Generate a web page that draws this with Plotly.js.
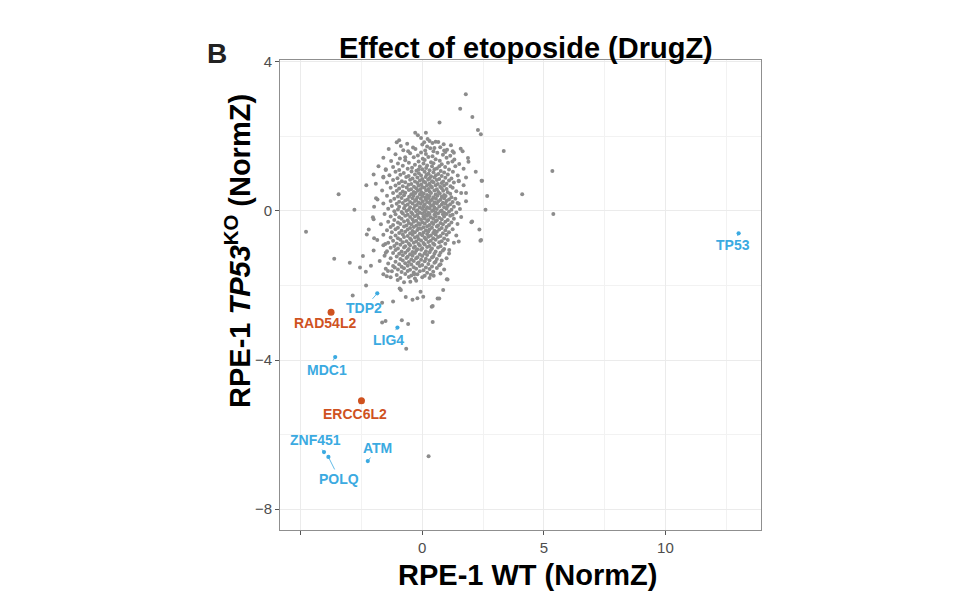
<!DOCTYPE html>
<html>
<head>
<meta charset="utf-8">
<script src="https://cdn.plot.ly/plotly-3.0.1.min.js"></script>
<style>html,body{margin:0;padding:0;background:#fff;}#chart{width:973px;height:616px;}</style>
</head>
<body>
<div id="chart"></div>
<script>
// Background genes as [NormZ WT, NormZ TP53KO] pairs
const outlierPts = [
  [1.79,3.13],[1.56,2.74],[2.06,2.52],[0.71,2.37],[2.29,2.17],[2.41,2.06],[3.35,1.61],[5.35,1.07],
  [2.44,0.81],[4.11,0.45],[-3.44,0.45],[2.67,0.40],[2.6,0.03],[-2.79,0.03],[5.39,-0.08],[2.02,-0.30],
  [2.39,-0.80],[-4.78,-0.56],[-2.03,-0.17],[-3.62,-1.28],[-2.98,-1.39],[-2.44,-1.21],[-2.56,-1.52],
  [-1.13,-1.52],[-2.32,-1.63],[-1.46,-1.75],[0.47,-1.74],[-1.41,-1.61],[-1.01,-1.85],[-0.25,-1.87],
  [-0.75,-1.91],[-0.49,-1.90],[-0.33,-1.70],[-0.93,-2.08],[-0.88,-2.12],[0.86,-2.12],[-0.68,-2.31],
  [-0.4,-2.38],[-0.2,-2.34],[0.04,-2.30],[-0.07,-2.17],[1.01,-1.83],[0.63,-2.35],[0.39,-2.57],
  [0.43,-2.98],[-1.65,-2.46],[-1.2,-2.43],[-1.65,-2.99],[-1.51,-2.95],[-0.84,-2.93],[-0.58,-3.03],
  [-0.66,-3.70],[-2.86,-2.27],[-2.31,-2.00],[0.26,-6.58]
];
const edgePts = [
  [-1.98,0.11],[-1.84,0.31],[-1.91,0.73],[-1.6,0.92],[-1.5,1.1],[-2.28,-0.63],[-1.98,-0.73],[-2.11,-1.47],
  [-1.52,-0.89],[-1.5,-1.12],[1.5,0.81],[1.5,0.19],[1.8,0.48],[1.9,1.32],[2.05,-0.28],[2.42,-0.78],
  [2.46,0.81],[1.04,-1.84],[0.7,-2.35],[0.43,-2.55],[1.5,-0.82],[1.11,-1.05],[1.66,1.6],[1.25,1.6],[0.9,1.62]
];
const bandTop = [
  [-0.29,2.1],[0.15,2.1],[-0.18,2.03],[-0.05,1.96],[0.22,1.93],[-0.95,1.9],[-1.05,1.84],[0.3,1.88],[0.55,1.86],[0.08,1.84],
  [0.42,1.82],[0.66,1.85],[-0.62,1.8],[0.0,1.78],[0.88,1.79],[1.18,1.76],[-0.88,1.74],[-0.38,1.7],[0.2,1.73],[0.5,1.69],
  [0.74,1.71],[-1.38,1.66],[-0.78,1.63],[-0.28,1.66],[0.12,1.62],[0.46,1.6],[1.02,1.64],[1.58,1.67],[-0.58,1.6],[0.33,1.68],[0.95,1.58]
];
const bandUpper = [
  [-1.1,1.52],[-0.5,1.55],[-0.18,1.49],[0.15,1.53],[0.42,1.47],[0.85,1.51],[1.15,1.48],[1.3,1.56],[-0.05,1.57],[0.62,1.56],
  [-1.6,1.43],[-0.92,1.41],[-0.35,1.44],[0.02,1.4],[0.25,1.45],[0.55,1.39],[1.0,1.43],[1.88,1.42],[-0.7,1.36],[-0.15,1.33],
  [0.1,1.37],[0.36,1.31],[0.72,1.35],[1.24,1.33],[-1.28,1.34],[-1.0,1.27],[-0.55,1.29],[-0.3,1.24],[0.05,1.27],[0.2,1.22],
  [0.46,1.28],[0.8,1.25],[1.06,1.29],[1.52,1.26],[-1.8,1.2],[-1.2,1.18],[-0.8,1.21],[-0.42,1.16],[-0.1,1.19],[0.16,1.15],
  [0.4,1.2],[0.6,1.14],[0.94,1.18],[1.36,1.2],[-1.5,1.12],[-0.95,1.1],[-0.6,1.13],[-0.24,1.08],[0.0,1.12],[0.3,1.09],
  [0.5,1.12],[0.76,1.07],[1.1,1.11],[1.7,1.13],[-0.7,1.44],[0.7,1.2],[-0.15,1.11],[1.32,1.38]
];
const bandHigh = [
  [-1.1,1.05],[-0.76,1.02],[-0.44,1.06],[-0.14,1.01],[0.1,1.05],[0.26,1.0],[0.46,1.04],[0.66,0.99],[0.9,1.03],[1.26,1.05],[2.2,1.05],
  [-2.0,0.98],[-1.35,0.96],[-0.9,0.97],[-0.56,0.94],[-0.3,0.98],[-0.05,0.95],[0.18,0.97],[0.36,0.93],[0.56,0.96],[0.8,0.94],[1.05,0.98],[1.46,0.95],
  [-1.6,0.9],[-1.02,0.88],[-0.66,0.91],[-0.4,0.87],[-0.2,0.9],[0.0,0.86],[0.14,0.91],[0.3,0.88],[0.5,0.9],[0.7,0.86],[0.95,0.89],[1.2,0.87],[1.8,0.9],
  [-1.2,0.83],[-0.84,0.8],[-0.5,0.84],[-0.3,0.79],[-0.1,0.82],[0.06,0.79],[0.24,0.84],[0.4,0.8],[0.6,0.83],[0.86,0.79],[1.1,0.82],[1.5,0.8],
  [-1.45,0.76],[-0.96,0.74],[-0.7,0.77],[-0.45,0.72],[-0.2,0.75],[-0.04,0.71],[0.12,0.76],[0.3,0.73],[0.46,0.77],[0.64,0.72],[0.8,0.75],[1.0,0.73],[1.3,0.76],
  [-2.3,0.69],[-1.1,0.68],[-0.8,0.66],[-0.56,0.7],[-0.34,0.65],[-0.15,0.68],[0.0,0.64],[0.2,0.69],[0.36,0.66],[0.55,0.69],[0.74,0.65],[0.9,0.68],[1.16,0.66],[1.7,0.69],
  [-1.3,0.62],[-0.95,0.6],[-0.64,0.63],[-0.46,0.58],[-0.25,0.61],[-0.08,0.58],[0.1,0.62],[0.26,0.59],[0.4,0.63],[0.6,0.58],[0.8,0.61],[1.0,0.59],[1.25,0.62],
  [-1.65,0.55],[-1.05,0.54],[-0.8,0.52],[-0.55,0.56],[-0.35,0.51],[-0.18,0.54],[-0.04,0.5],[0.16,0.55],[0.3,0.52],[0.5,0.55],[0.66,0.51],[0.86,0.54],[1.05,0.5],[1.4,0.53]
];
const bandMid = [
  [-1.2,0.48],[-0.9,0.46],[-0.7,0.49],[-0.45,0.45],[-0.28,0.48],[-0.1,0.44],[0.06,0.47],[0.2,0.43],[0.36,0.48],[0.55,0.44],[0.72,0.47],[0.9,0.43],[1.15,0.46],[1.6,0.48],
  [-1.45,0.41],[-1.0,0.39],[-0.75,0.42],[-0.54,0.38],[-0.36,0.41],[-0.2,0.37],[0.0,0.4],[0.12,0.36],[0.3,0.4],[0.46,0.37],[0.62,0.41],[0.8,0.38],[0.96,0.4],[1.2,0.37],
  [-1.9,0.34],[-1.15,0.33],[-0.85,0.35],[-0.6,0.31],[-0.4,0.34],[-0.25,0.3],[-0.06,0.33],[0.15,0.31],[0.25,0.35],[0.4,0.3],[0.56,0.33],[0.75,0.3],[0.9,0.34],[1.1,0.31],[1.36,0.33],
  [-1.3,0.27],[-0.95,0.25],[-0.7,0.28],[-0.5,0.24],[-0.3,0.27],[-0.15,0.23],[0.02,0.26],[0.2,0.24],[0.35,0.28],[0.5,0.23],[0.66,0.26],[0.85,0.22],[1.0,0.27],[1.25,0.24],[1.8,0.26],
  [-1.6,0.2],[-1.05,0.19],[-0.8,0.21],[-0.6,0.17],[-0.4,0.2],[-0.22,0.16],[-0.06,0.19],[0.1,0.17],[0.3,0.21],[0.45,0.16],[0.6,0.2],[0.8,0.17],[0.95,0.2],[1.15,0.18],[1.45,0.21],
  [-1.25,0.13],[-0.95,0.11],[-0.7,0.14],[-0.5,0.1],[-0.3,0.13],[-0.1,0.09],[0.05,0.12],[0.2,0.1],[0.36,0.14],[0.5,0.09],[0.7,0.12],[0.9,0.1],[1.05,0.13],[1.3,0.11],
  [-1.4,0.06],[-1.0,0.04],[-0.75,0.07],[-0.55,0.03],[-0.35,0.06],[-0.2,0.02],[0.0,0.05],[0.15,0.03],[0.3,0.07],[0.45,0.02],[0.6,0.05],[0.8,0.01],[1.0,0.06],[1.2,0.03],[1.55,0.05],
  [-1.15,-0.01],[-0.85,-0.03],[-0.65,0.0],[-0.45,-0.04],[-0.25,-0.01],[-0.1,-0.05],[0.1,-0.02],[0.25,-0.05],[0.4,0.0],[0.55,-0.04],[0.75,-0.01],[0.9,-0.05],[1.1,-0.02],[1.4,-0.04],
  [-1.55,-0.08],[-1.1,-0.09],[-0.8,-0.07],[-0.6,-0.1],[-0.4,-0.08],[-0.2,-0.1],[0.0,-0.07],[0.15,-0.1],[0.3,-0.08],[0.5,-0.1],[0.65,-0.07],[0.85,-0.09],[1.0,-0.08],[1.25,-0.1]
];
const bandLow = [
  [-1.3,-0.15],[-0.95,-0.17],[-0.7,-0.13],[-0.5,-0.16],[-0.3,-0.14],[-0.15,-0.18],[0.05,-0.15],[0.2,-0.13],[0.35,-0.17],[0.55,-0.14],[0.7,-0.18],[0.9,-0.15],[1.15,-0.13],[1.6,-0.16],
  [-2.0,-0.22],[-1.15,-0.24],[-0.85,-0.21],[-0.6,-0.25],[-0.4,-0.22],[-0.25,-0.26],[-0.05,-0.23],[0.1,-0.2],[0.25,-0.24],[0.45,-0.21],[0.6,-0.25],[0.8,-0.22],[1.05,-0.24],[1.3,-0.21],
  [-1.4,-0.29],[-1.0,-0.31],[-0.75,-0.28],[-0.55,-0.32],[-0.35,-0.29],[-0.15,-0.33],[0.0,-0.3],[0.2,-0.27],[0.4,-0.31],[0.55,-0.28],[0.75,-0.32],[0.95,-0.29],[1.2,-0.31],
  [-1.7,-0.36],[-1.2,-0.38],[-0.9,-0.35],[-0.65,-0.39],[-0.45,-0.36],[-0.25,-0.4],[-0.1,-0.37],[0.1,-0.34],[0.3,-0.38],[0.45,-0.35],[0.65,-0.39],[0.85,-0.36],[1.1,-0.38],[1.45,-0.35],
  [-1.3,-0.43],[-1.0,-0.45],[-0.75,-0.42],[-0.5,-0.46],[-0.35,-0.43],[-0.15,-0.47],[0.05,-0.44],[0.2,-0.41],[0.4,-0.45],[0.6,-0.42],[0.8,-0.46],[1.0,-0.43],
  [-2.2,-0.5],[-1.45,-0.52],[-1.1,-0.49],[-0.85,-0.53],[-0.6,-0.5],[-0.4,-0.54],[-0.2,-0.51],[-0.05,-0.48],[0.15,-0.52],[0.3,-0.49],[0.5,-0.53],[0.7,-0.5],[0.95,-0.52],[1.25,-0.49],[2.35,-0.5],
  [-1.25,-0.57],[-0.95,-0.59],[-0.7,-0.56],[-0.5,-0.6],[-0.3,-0.57],[-0.1,-0.61],[0.05,-0.58],[0.25,-0.55],[0.45,-0.59],[0.6,-0.56],[0.85,-0.6],[1.1,-0.57],
  [-1.6,-0.64],[-1.1,-0.66],[-0.8,-0.63],[-0.6,-0.67],[-0.4,-0.64],[-0.2,-0.68],[0.0,-0.65],[0.2,-0.62],[0.35,-0.66],[0.55,-0.63],[0.75,-0.67],[1.0,-0.64],[1.4,-0.66],
  [-1.3,-0.71],[-1.0,-0.73],[-0.75,-0.7],[-0.5,-0.74],[-0.3,-0.71],[-0.15,-0.75],[0.1,-0.72],[0.25,-0.69],[0.45,-0.73],[0.65,-0.7],[0.9,-0.74],
  [-1.85,-0.78],[-1.2,-0.8],[-0.9,-0.77],[-0.65,-0.81],[-0.45,-0.78],[-0.25,-0.82],[-0.05,-0.79],[0.15,-0.76],[0.35,-0.8],[0.55,-0.77],[0.8,-0.81],[1.05,-0.78]
];
const bandBottom = [
  [-1.4,-0.85],[-1.05,-0.87],[-0.8,-0.84],[-0.55,-0.88],[-0.35,-0.85],[-0.15,-0.89],[0.05,-0.86],[0.25,-0.83],[0.45,-0.87],[0.7,-0.84],[0.95,-0.88],[1.3,-0.85],
  [-1.6,-0.92],[-1.15,-0.94],[-0.9,-0.91],[-0.7,-0.95],[-0.5,-0.92],[-0.3,-0.96],[-0.1,-0.93],[0.1,-0.9],[0.3,-0.94],[0.5,-0.91],[0.75,-0.95],
  [-1.3,-0.99],[-1.0,-1.01],[-0.75,-0.98],[-0.55,-1.02],[-0.35,-0.99],[-0.2,-1.03],[0.0,-1.0],[0.2,-0.97],[0.4,-1.01],[0.65,-0.98],[0.9,-1.02],
  [-2.0,-1.06],[-1.45,-1.08],[-1.1,-1.05],[-0.85,-1.09],[-0.6,-1.06],[-0.4,-1.1],[-0.25,-1.07],[-0.05,-1.04],[0.15,-1.08],[0.35,-1.05],[0.55,-1.09],[0.85,-1.06],
  [-1.2,-1.13],[-0.95,-1.15],[-0.7,-1.12],[-0.5,-1.16],[-0.3,-1.13],[-0.1,-1.17],[0.1,-1.14],[0.3,-1.11],[0.5,-1.15],[0.75,-1.12],[1.1,-1.14],
  [-1.55,-1.2],[-1.05,-1.22],[-0.8,-1.19],[-0.6,-1.23],[-0.4,-1.2],[-0.2,-1.24],[0.0,-1.21],[0.2,-1.18],[0.45,-1.22],[0.7,-1.19],
  [-1.3,-1.27],[-0.9,-1.29],[-0.65,-1.26],[-0.45,-1.3],[-0.25,-1.27],[-0.05,-1.31],[0.15,-1.28],[0.4,-1.25],[0.6,-1.29],[1.0,-1.27],
  [-1.75,-1.34],[-1.1,-1.36],[-0.8,-1.33],[-0.55,-1.37],[-0.35,-1.34],[-0.15,-1.38],[0.1,-1.35],[0.3,-1.32],[0.55,-1.36],[0.8,-1.33],
  [-1.4,-1.41],[-0.95,-1.43],[-0.7,-1.4],[-0.45,-1.44],[-0.2,-1.41],[0.0,-1.45],[0.25,-1.42],[0.5,-1.39],[0.75,-1.43],
  [-1.2,-1.48],[-0.85,-1.5],[-0.6,-1.47],[-0.35,-1.51],[-0.1,-1.48],[0.15,-1.52],[0.4,-1.49],[0.7,-1.46],
  [-1.5,-1.55],[-1.0,-1.57],[-0.75,-1.54],[-0.5,-1.58],[-0.25,-1.55],[0.05,-1.59],[0.3,-1.56],[0.6,-1.53],[0.9,-1.57],
  [-1.25,-1.62],[-0.85,-1.64],[-0.6,-1.61],[-0.35,-1.65],[-0.1,-1.62],[0.2,-1.66],[0.45,-1.63],
  [-1.6,-1.7],[-1.05,-1.72],[-0.7,-1.69],[-0.45,-1.73],[-0.2,-1.7],[0.1,-1.74],[0.35,-1.71],[0.75,-1.68],
  [-1.3,-1.78],[-0.9,-1.8],[-0.55,-1.77],[-0.3,-1.81],[0.0,-1.78],[0.3,-1.8]
];
const bgPts = [].concat(outlierPts, edgePts, bandTop, bandUpper, bandHigh, bandMid, bandLow, bandBottom);
const bgX = bgPts.map(p => p[0]);
const bgY = bgPts.map(p => p[1]);

// Highlighted genes
const blueGenes = ['TP53', 'TDP2', 'LIG4', 'MDC1', 'ZNF451', 'POLQ', 'ATM'];
const blueX = [13.01, -1.85, -1.02, -3.58, -4.04, -3.86, -2.24];
const blueY = [-0.60, -2.21, -3.13, -3.92, -6.47, -6.60, -6.71];
const blueDx = [-6, -13, -9, -8, -9, 11, 10];
const blueDy = [12, 15, 12, 13, -12, 22, -13];
const redGenes = ['RAD54L2', 'ERCC6L2'];
const redX = [-3.75, -2.50];
const redY = [-2.72, -5.09];
const redDx = [-6, -6];
const redDy = [11, 13];

const xTicks = [-5, 0, 5, 10];
const xTickText = ['', '0', '5', '10'];
const yTicks = [4, 0, -4, -8];
const yTickText = ['4', '0', '\u22124', '\u22128'];

const BLUE = '#3BAAE1';
const RED = '#CF521F';
const FONT = 'Liberation Sans, Arial, sans-serif';

const traces = [
  { x: bgX, y: bgY, type: 'scatter', mode: 'markers', marker: { color: '#8C8C8C', size: 4 }, hoverinfo: 'skip' },
  { x: blueX, y: blueY, type: 'scatter', mode: 'markers', marker: { color: BLUE, size: 4.2 }, text: blueGenes },
  { x: redX, y: redY, type: 'scatter', mode: 'markers', marker: { color: RED, size: 7 }, text: redGenes }
];

const annotations = [];
function addLabels(names, xs, ys, dxs, dys, color) {
  names.forEach((n, i) => annotations.push({
    x: xs[i], y: ys[i], xref: 'x', yref: 'y', text: '<b>' + n + '</b>',
    showarrow: true, arrowhead: 0, arrowwidth: 0.8, arrowcolor: color, standoff: 1,
    ax: dxs[i], ay: dys[i], font: { family: FONT, size: 14, color: color }
  }));
}
addLabels(blueGenes, blueX, blueY, blueDx, blueDy, BLUE);
addLabels(redGenes, redX, redY, redDx, redDy, RED);

annotations.push(
  { text: '<b>Effect of etoposide (DrugZ)</b>', xref: 'paper', yref: 'paper', x: (526 - 280) / 481, y: (530 - 48) / 470,
    showarrow: false, font: { family: FONT, size: 29, color: '#000' }, xanchor: 'center', yanchor: 'middle' },
  { text: '<b>B</b>', xref: 'paper', yref: 'paper', x: (217 - 280) / 481, y: (530 - 53) / 470,
    showarrow: false, font: { family: FONT, size: 28, color: '#222' }, xanchor: 'center', yanchor: 'middle' },
  { text: '<b>RPE-1 WT (NormZ)</b>', xref: 'paper', yref: 'paper', x: (527 - 280) / 481, y: (530 - 575) / 470,
    showarrow: false, font: { family: FONT, size: 29, color: '#000' }, xanchor: 'center', yanchor: 'middle' },
  { text: '<b>RPE-1 <i>TP53</i><sup>KO</sup> (NormZ)</b>', xref: 'paper', yref: 'paper', x: (238 - 280) / 481, y: (530 - 251) / 470,
    showarrow: false, textangle: -90, font: { family: FONT, size: 29, color: '#000' }, xanchor: 'center', yanchor: 'middle' }
);

const layout = {
  width: 973, height: 616,
  margin: { l: 280, r: 212, t: 60, b: 86 },
  paper_bgcolor: '#fff', plot_bgcolor: '#fff',
  showlegend: false,
  font: { family: FONT },
  xaxis: {
    range: [-5.85, 13.93], tickmode: 'array', tickvals: xTicks, ticktext: xTickText,
    showgrid: true, gridcolor: '#EBEBEB', gridwidth: 1, zeroline: false,
    showline: true, mirror: true, linecolor: '#8F8F8F', linewidth: 1,
    ticks: 'outside', ticklen: 4, tickcolor: '#555', tickwidth: 1,
    tickfont: { family: FONT, size: 15, color: '#4D4D4D' },
    minor: { tickmode: 'array', tickvals: [-2.5, 2.5, 7.5, 12.5], showgrid: true, gridcolor: '#F2F2F2', gridwidth: 1, ticks: '' }
  },
  yaxis: {
    range: [-8.56, 4.05], tickmode: 'array', tickvals: yTicks, ticktext: yTickText,
    showgrid: true, gridcolor: '#EBEBEB', gridwidth: 1, zeroline: false,
    showline: true, mirror: true, linecolor: '#8F8F8F', linewidth: 1,
    ticks: 'outside', ticklen: 4, tickcolor: '#555', tickwidth: 1,
    tickfont: { family: FONT, size: 15, color: '#4D4D4D' },
    minor: { tickmode: 'array', tickvals: [2, -2, -6], showgrid: true, gridcolor: '#F2F2F2', gridwidth: 1, ticks: '' }
  },
  annotations: annotations
};

Plotly.newPlot('chart', traces, layout, { displayModeBar: false, staticPlot: true });
</script>
</body>
</html>
